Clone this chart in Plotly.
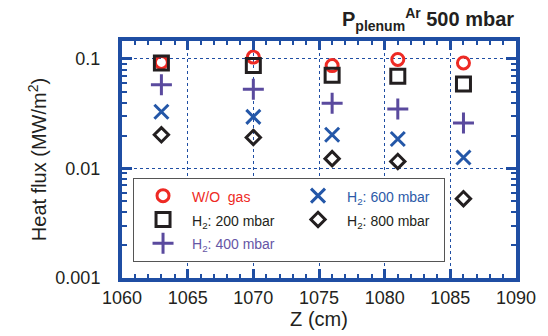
import plotly.graph_objects as go

z = [1063, 1070, 1076, 1081, 1086]
wo_gas = [0.093, 0.104, 0.087, 0.099, 0.092]
h2_200 = [0.092, 0.087, 0.071, 0.0695, 0.059]
h2_400 = [0.058, 0.053, 0.0395, 0.035, 0.026]
h2_600 = [0.033, 0.0296, 0.0203, 0.0186, 0.0126]
h2_800 = [0.0203, 0.0192, 0.0123, 0.0116, 0.0053]

BLUE = "#1f4ea3"
DARK = "#231f20"
FONT = "Liberation Sans, Arial, sans-serif"

series = [
    ("W/O  gas", wo_gas, "circle-open", 12, "#ee2a24", "#ee2a24", 1),
    ("H<sub>2</sub>: 200 mbar", h2_200, "square-open", 14, DARK, DARK, 3),
    ("H<sub>2</sub>: 400 mbar", h2_400, "cross-thin-open", 15, "#5a4a9e", "#6656a6", 5),
    ("H<sub>2</sub>: 600 mbar", h2_600, "x-thin-open", 14, "#2457a8", "#2c5aa8", 2),
    ("H<sub>2</sub>: 800 mbar", h2_800, "diamond-open", 11, DARK, DARK, 4),
]

fig = go.Figure()
for name, vals, sym, size, col, tcol, rank in series:
    fig.add_trace(go.Scatter(
        x=z, y=vals, mode="markers",
        name=f'<span style="color:{tcol};font-size:14px">{name}</span>',
        legendrank=rank,
        marker=dict(symbol=sym, size=size, color=col,
                    line=dict(color=col, width=3)),
    ))

axis_common = dict(
    showline=True, linewidth=4, linecolor=BLUE, mirror="ticks",
    ticks="inside", tickwidth=3, tickcolor=BLUE,
    showgrid=True, gridcolor=BLUE, griddash="dot", gridwidth=1,
    zeroline=False,
    tickfont=dict(family=FONT, size=18, color=DARK),
    title_font=dict(family=FONT, size=20, color=DARK),
)

fig.update_xaxes(
    range=[1060, 1090], dtick=5, tick0=1060, ticklen=9,
    minor=dict(ticks="inside", ticklen=4, tickwidth=2, tickcolor=BLUE, dtick=1, showgrid=False),
    title_text="Z (cm)", title_standoff=2,
    **axis_common,
)
fig.update_yaxes(
    type="log", range=[-3, -0.836],
    tickvals=[0.001, 0.01, 0.1], ticktext=["0.001", "0.01", "0.1"], ticklen=10,
    minor=dict(ticks="inside", ticklen=5, tickwidth=2, tickcolor=BLUE,
               tickvals=[m * d for d in (0.001, 0.01, 0.1) for m in range(2, 10)],
               showgrid=False),
    title_text="Heat flux (MW/m<sup>2</sup>)", title_standoff=4,
    ticklabelstandoff=14,
    **axis_common,
)

fig.update_layout(
    width=548, height=336,
    margin=dict(l=122, r=31, t=41, b=53),
    paper_bgcolor="white", plot_bgcolor="white",
    showlegend=True,
    legend=dict(
        orientation="h", x=0.028, y=0.423, xanchor="left", yanchor="top",
        entrywidth=92, itemwidth=48, bgcolor="white", bordercolor="#555555", borderwidth=1,
        font=dict(family=FONT, size=16, color=DARK),
        itemsizing="trace",
    ),
    annotations=[dict(
        x=1, y=1.02, xref="paper", yref="paper", xanchor="right", yanchor="bottom",
        text="<b>P<sub>plenum</sub><sup>Ar</sup> 500 mbar</b>", showarrow=False,
        font=dict(family=FONT, size=20, color=DARK),
    )],
)

fig.write_html("out.html")
